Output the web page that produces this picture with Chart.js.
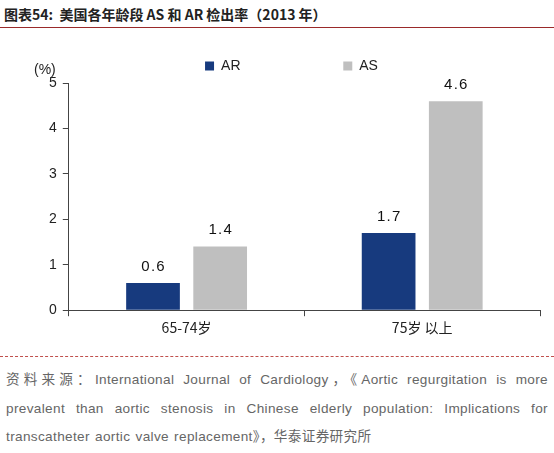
<!DOCTYPE html>
<html><head><meta charset="utf-8">
<script src="https://cdn.jsdelivr.net/npm/chart.js@4"></script>
<style>
body{margin:0;width:554px;height:453px;background:#fff;font-family:"Noto Sans CJK SC","Liberation Sans",sans-serif;position:relative;overflow:hidden}
#title{position:absolute;left:4px;top:4px;font-size:14px;font-weight:bold;color:#222}
#tl{position:absolute;left:0;top:27px;width:554px;border-top:1.5px solid #9a2a2a}
#wrap{position:absolute;left:0;top:34px;width:554px;height:305px}
#sep{position:absolute;left:0;top:356px;width:554px;border-top:1px dashed #c0504d}
#src{position:absolute;left:6px;top:366px;width:542px;font-size:13.6px;line-height:28.5px;color:#666;text-align:justify;letter-spacing:0.35px;word-spacing:1px;font-family:"Liberation Sans","Noto Sans CJK SC",sans-serif}
</style></head><body>
<div id="title">图表54:&nbsp;&nbsp;美国各年龄段 AS 和 AR 检出率（2013 年）</div>
<div id="tl"></div>
<div id="wrap"><canvas id="c"></canvas></div>
<div id="sep"></div>
<div id="src">资料来源：International Journal of Cardiology，《Aortic regurgitation is more prevalent than aortic stenosis in Chinese elderly population: Implications for transcatheter aortic valve replacement》，华泰证券研究所</div>
<script>
const categories=["65-74岁","75岁 以上"];
const arValues=[0.6,1.7];
const asValues=[1.4,4.6];
const yTicks=[0,1,2,3,4,5];
const labelPlugin={id:'lbl',afterDatasetsDraw(ch){const c=ch.ctx;c.save();c.font='15px "Liberation Sans"';c.fillStyle='#111';c.textAlign='center';c.textBaseline='bottom';
ch.data.datasets.forEach((d,i)=>{ch.getDatasetMeta(i).data.forEach((b,j)=>{c.fillText(d.data[j].toFixed(1).split('').join(String.fromCharCode(8202)),b.x,b.y-9);});});
const ya=ch.scales.y;c.font='14px "Liberation Sans"';c.fillStyle='#222';c.textAlign='left';c.fillText('(%)',34,ya.top-6);c.restore();}};
new Chart(document.getElementById('c'),{type:'bar',
data:{labels:categories,datasets:[
{label:'AR',data:arValues,backgroundColor:'#173a7e',barPercentage:0.8,categoryPercentage:0.57},
{label:'AS',data:asValues,backgroundColor:'#bfbfbf',barPercentage:0.8,categoryPercentage:0.57}]},
options:{responsive:true,maintainAspectRatio:false,animation:false,
layout:{padding:{left:43,right:14,top:0,bottom:0}},
plugins:{legend:{position:'top',labels:{boxWidth:9,boxHeight:9,padding:25,color:'#222',font:{size:14,family:'Liberation Sans'},
generateLabels(ch){const l=Chart.defaults.plugins.legend.labels.generateLabels(ch);l[0].text='AR'+'\u00a0'.repeat(20);return l;}}},tooltip:{enabled:false}},
scales:{
x:{grid:{drawOnChartArea:false,color:'#444',tickLength:6},border:{color:'#444'},ticks:{color:'#222',font:{size:14,family:'Noto Sans CJK SC'}}},
y:{min:0,max:5,afterBuildTicks(s){s.ticks=yTicks.map(v=>({value:v}));},grid:{drawOnChartArea:false,color:'#444',tickLength:6},border:{color:'#444'},ticks:{color:'#222',padding:6,font:{size:14,family:'Liberation Sans'}}}}},
plugins:[labelPlugin]});
</script></body></html>
